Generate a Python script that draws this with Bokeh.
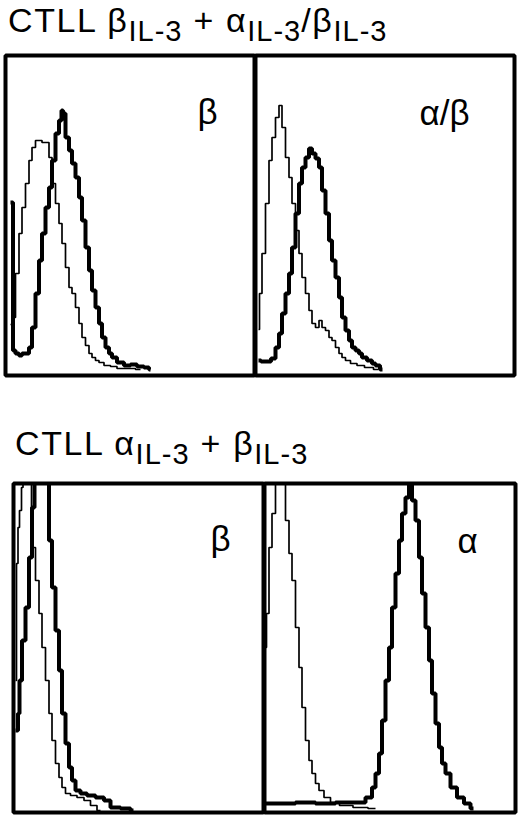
from bokeh.plotting import figure
from bokeh.layouts import column, row
from bokeh.models import Div, Label, Range1d
from bokeh.embed import file_html
from bokeh.resources import INLINE

# ---------------- data (channel, counts) ----------------
TITLE_TOP = [("CTLL β", "IL-3"), (" + α", "IL-3"), ("/β", "IL-3")]
TITLE_BOTTOM = [("CTLL α", "IL-3"), (" + β", "IL-3")]
PANEL_LABELS = ["β", "α/β", "β", "α"]

tl_thin_ch = [0, 3, 7, 10, 13, 17, 20, 23, 27, 30, 33, 37, 40, 43, 47, 50, 53, 57, 60, 63, 67, 70,
              73, 77, 80, 83, 87, 90, 97, 103, 110, 120, 130]
tl_thin_n = [45, 52, 96, 136, 162, 186, 209, 222, 229, 229, 227, 227, 212, 186, 166, 146, 126, 102,
             82, 76, 62, 46, 32, 24, 16, 12, 9, 7, 4, 3, 1, 1, 0]
tl_thick_ch = [0, 2, 3, 7, 10, 13, 17, 20, 23, 27, 30, 33, 37, 40, 43, 47, 50, 52, 53, 57, 60, 63,
               67, 70, 73, 77, 80, 83, 87, 90, 93, 97, 100, 103, 110, 117, 123, 130, 137, 140]
tl_thick_n = [167, 167, 19, 16, 14, 16, 16, 22, 42, 76, 109, 136, 162, 182, 209, 236, 249, 259, 256,
              232, 219, 206, 192, 172, 149, 122, 99, 79, 62, 46, 32, 22, 16, 12, 7, 4, 5, 3, 2, 0]

tr_thin_ch = [0, 2, 5, 9, 12, 15, 19, 22, 25, 29, 32, 35, 39, 42, 45, 49, 52, 55, 59, 62, 65, 69,
              72, 75, 79, 82, 85, 89, 95, 102, 110, 120]
tr_thin_n = [40, 76, 116, 166, 209, 232, 252, 264, 242, 212, 192, 166, 139, 116, 92, 76, 59, 46,
             42, 49, 42, 39, 32, 29, 22, 16, 12, 9, 6, 4, 2, 0]
tr_thick_ch = [0, 5, 10, 15, 19, 22, 25, 29, 32, 35, 39, 42, 45, 49, 52, 55, 59, 62, 65, 69, 72,
               75, 79, 82, 85, 89, 92, 95, 99, 102, 105, 112, 115, 119, 124]
tr_thick_n = [9, 8, 8, 11, 22, 36, 56, 76, 96, 122, 156, 186, 202, 212, 221, 216, 211, 202, 179,
              156, 129, 109, 92, 72, 52, 39, 29, 22, 19, 16, 12, 9, 6, 4, 0]

bl_thin_ch = [0, 2, 3, 5, 7, 8, 11, 15, 17, 18, 22, 25, 28, 32, 35, 38, 42, 45, 48, 52, 58, 65,
              72, 78, 85]
bl_thin_n = [130, 247, 283, 300, 323, 360, 360, 340, 280, 263, 230, 197, 163, 130, 97, 70, 47, 33,
             23, 17, 15, 13, 10, 5, 0]
bl_thick_ch = [0, 2, 3, 5, 8, 12, 15, 18, 20, 25, 30, 32, 35, 38, 42, 45, 48, 52, 55, 58, 62, 68,
               75, 85, 92, 98, 112, 118]
bl_thick_n = [80, 80, 97, 130, 170, 203, 253, 303, 340, 370, 360, 330, 270, 223, 180, 140, 97, 67,
              43, 30, 20, 17, 15, 13, 10, 3, 2, 0]

br_thin_ch = [0, 2, 5, 8, 12, 15, 18, 22, 25, 28, 32, 35, 38, 42, 45, 48, 52, 55, 62, 68, 80, 95, 110]
br_thin_n = [161, 195, 261, 295, 330, 360, 330, 288, 255, 228, 181, 141, 101, 68, 48, 35, 25, 18,
             11, 6, 3, 1, 0]
br_thick_ch = [0, 20, 40, 60, 80, 95, 105, 108, 112, 115, 118, 122, 125, 128, 132, 135, 138, 142,
               145, 148, 152, 155, 158, 162, 165, 168, 172, 175, 178, 182, 188, 195, 202, 208]
br_thick_n = [5, 5, 6, 5, 6, 6, 11, 21, 35, 55, 88, 128, 161, 201, 235, 268, 295, 311, 326, 308,
              288, 251, 215, 181, 148, 115, 85, 61, 45, 35, 21, 11, 5, 0]

FONT = "Liberation Sans"


def title_html(parts, left_pad, top_pad):
    s = ""
    for main, sub in parts:
        s += (main + '<span style="font-size:29px;vertical-align:-9px;letter-spacing:1px">'
              + sub + '</span>')
    return ('<div style="font-family:\'%s\';font-size:34px;line-height:34px;white-space:nowrap;'
            'letter-spacing:1.6px;color:#000;margin-left:%dpx;margin-top:%dpx">%s</div>'
            % (FONT, left_pad, top_pad, s))


def panel(width, height, xr, yr, borders, thin, thick, label, label_xy):
    p = figure(width=width, height=height, x_range=Range1d(*xr), y_range=Range1d(*yr),
               output_backend="svg", toolbar_location=None,
               x_axis_location=None, y_axis_location=None,
               min_border_left=borders[0], min_border_right=borders[1],
               min_border_top=borders[2], min_border_bottom=borders[3])
    p.grid.visible = False
    p.background_fill_color = "white"
    p.border_fill_color = "white"
    p.outline_line_color = "black"
    p.outline_line_width = 4
    p.outline_line_alpha = 1.0
    p.step(thin[0], thin[1], mode="center", line_color="black", line_width=1.7)
    p.step(thick[0], thick[1], mode="center", line_color="black", line_width=4)
    p.add_layout(Label(x=label_xy[0], y=label_xy[1], text=label, text_font=FONT,
                       text_font_size="35px", text_color="black",
                       text_baseline="alphabetic", text_align="left"))
    return p


tl = panel(252, 328, (-5, 245), (-6, 314), (2, 0, 4, 4),
           (tl_thin_ch, tl_thin_n), (tl_thick_ch, tl_thick_n), PANEL_LABELS[0], (187, 258))
tr = panel(263, 328, (-3, 256), (-6, 314), (0, 4, 4, 4),
           (tr_thin_ch, tr_thin_n), (tr_thick_ch, tr_thick_n), PANEL_LABELS[1], (161, 257))
bl = panel(261, 336, (-2, 249), (-2, 327), (10, 0, 3, 4),
           (bl_thin_ch, bl_thin_n), (bl_thick_ch, bl_thick_n), PANEL_LABELS[2], (195, 272))
br = panel(255, 336, (-1, 250), (-4, 325), (0, 4, 3, 4),
           (br_thin_ch, br_thin_n), (br_thick_ch, br_thick_n), PANEL_LABELS[3], (192, 268))

d1 = Div(text=title_html(TITLE_TOP, 5, 0), width=515, height=48, margin=0)
d2 = Div(text=title_html(TITLE_BOTTOM, 12, 47), width=515, height=101, margin=0)

layout = column(d1, row(tl, tr, margin=0), d2, row(bl, br, margin=0), margin=(3, 0, 0, 3))

open("out.html", "w").write(file_html(layout, INLINE))
